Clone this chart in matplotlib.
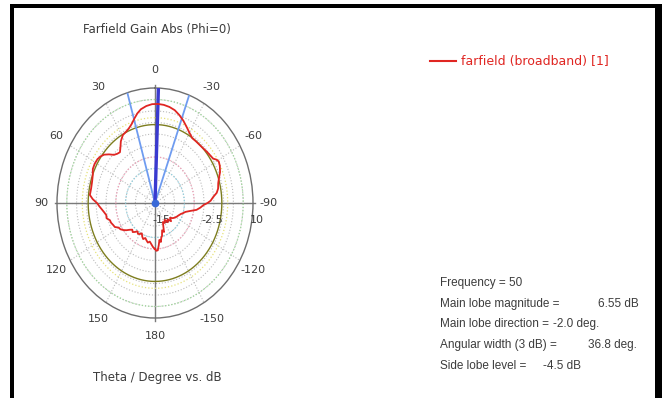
import numpy as np
import matplotlib.pyplot as plt
from matplotlib.patches import Rectangle
from matplotlib.lines import Line2D

# farfield cut, phi = 0 : theta (deg) vs gain (dB)
theta_deg = [-180, -178, -176, -174, -172, -170, -168, -166, -163, -160,
             -157, -154, -150, -146, -142, -138, -134, -130, -126, -122,
             -118, -114, -110, -107, -104, -101, -98, -95, -92, -90,
             -88, -85, -82, -79, -75, -71, -68, -64, -61, -59,
             -57, -54, -50, -46, -42, -38, -34, -30, -26, -22,
             -18, -14, -10, -6, -2, 2, 6, 10, 13, 16,
             19, 22, 25, 29, 33, 36, 39, 42, 45, 48,
             51, 54, 57, 61, 65, 69, 74, 79, 84, 87,
             90, 93, 96, 99, 102, 105, 108, 111, 114, 117,
             120, 123, 126, 129, 132, 135, 138, 141, 144, 147,
             150, 153, 156, 159, 162, 165, 168, 171, 174, 177, 180]
gain_db = [-5.0, -4.6, -4.7, -5.8, -6.9, -6.4, -7.3, -7.6, -8.8, -8.3,
           -9.6, -10.4, -10.0, -10.6, -9.7, -10.2, -9.3, -10.0, -9.4, -9.0,
           -8.7, -8.4, -8.0, -7.5, -7.0, -5.9, -4.3, -3.4, -2.6, -1.6,
           -0.8, -0.1, 0.9, 1.4, 1.7, 2.3, 2.9, 3.4, 3.6, 3.3,
           2.7, 2.5, 2.3, 2.1, 2.0, 2.0, 2.0, 2.6, 3.4, 4.3,
           5.1, 5.8, 6.2, 6.45, 6.55, 6.5, 6.2, 5.7, 5.0, 4.1,
           3.2, 2.6, 2.2, 1.9, 1.0, 0.0, -0.8, -0.6, -0.2, 0.8,
           1.7, 2.2, 2.5, 2.6, 2.5, 2.0, 1.7, 1.6, 1.7, 0.9,
           -0.2, -0.8, -1.4, -1.9, -2.3, -2.2, -2.9, -3.0, -3.3, -3.5,
           -4.3, -4.5, -5.0, -5.6, -6.3, -6.8, -6.5, -6.9, -7.4, -7.0,
           -7.2, -7.6, -7.0, -6.6, -7.0, -6.6, -6.2, -6.5, -6.0, -5.4, -5.0]

# summary values
frequency = 50
main_lobe_mag = 6.55
main_lobe_dir = -2.0
angular_width = 36.8
side_lobe_level = -4.5

r_min, r_max = -15, 10
r_labels = [-15, -2.5, 10]
theta_ticks = [0, 30, 60, 90, 120, 150, 180, -150, -120, -90, -60, -30]

W, H = 662, 398
fig = plt.figure(figsize=(W / 100, H / 100), dpi=100)
plt.rcParams['font.family'] = 'DejaVu Sans'
txt = '#3c3c3c'
fs = 8

# elliptical polar frame
ax = fig.add_axes([57 / W, (H - 318) / H, 196 / W, 230 / H], projection='polar')
ax.set_aspect('auto')
ax.set_theta_zero_location('N')
ax.set_theta_direction(1)
ax.set_ylim(r_min, r_max)
ax.set_yticks(np.arange(-12.5, 10, 2.5))
ax.set_yticklabels([])
ax.set_xticks(np.radians(np.arange(0, 360, 30)))
ax.set_xticklabels([])
ax.grid(True, color='#bcbcbc', linestyle=':', linewidth=0.8)
ax.spines['polar'].set_color('#6e6e6e')
ax.spines['polar'].set_linewidth(1.0)
ax.tick_params(length=0)

# solid cross through the centre
for t in (0, 90, 180, -90):
    ax.plot([np.radians(t)] * 2, [r_min, r_max + 0.6], color='#7a7a7a',
            lw=1.0, clip_on=False, zorder=2)

full = np.linspace(0, 2 * np.pi, 361)
# main lobe -3 dB level and side lobe level
ax.plot(full, np.full_like(full, main_lobe_mag - 3), color='#e6e27a', lw=0.9, ls=':')
ax.plot(full, np.full_like(full, main_lobe_mag + side_lobe_level), color='#7d7d1e', lw=1.0)
ax.plot(full, np.full_like(full, 7.5), color='#9fd89a', lw=0.9, ls=':')
ax.plot(full, np.full_like(full, -5.0), color='#f2a0b8', lw=0.9, ls=':')
ax.plot(full, np.full_like(full, -7.5), color='#8fd0e0', lw=0.9, ls=':')

# beam width and main lobe direction
for edge in (main_lobe_dir - angular_width / 2, main_lobe_dir + angular_width / 2):
    ax.plot([np.radians(edge)] * 2, [r_min, r_max], color='#6f9cf0', lw=1.3, zorder=3)
ax.plot([np.radians(main_lobe_dir)] * 2, [r_min, r_max], color='#3a3ad0', lw=2.4, zorder=4)
ax.plot([0], [r_min], 'o', color='#3a6ad8', ms=4.5, zorder=5)

ax.plot(np.radians(theta_deg), gain_db, color='#e02622', lw=1.3, zorder=6)

# angle labels around the frame
for t in theta_ticks:
    ax.text(np.radians(t), 14, str(t), ha='center', va='center', fontsize=fs,
            color=txt, clip_on=False)

# radial labels below the 90 deg axis
for v in r_labels:
    lab = f'{v:g}'
    ax.annotate(lab, xy=(np.radians(-90), v), xytext=(-3, -17),
                textcoords='offset pixels', ha='left', va='center',
                fontsize=fs, color=txt, annotation_clip=False)

fig.text(157 / W, 1 - 30 / H, 'Farfield Gain Abs (Phi=0)', ha='center',
         va='center', fontsize=8.5, color=txt)
fig.text(157 / W, 1 - 377 / H, 'Theta / Degree vs. dB', ha='center',
         va='center', fontsize=8.5, color=txt)

# legend entry
fig.add_artist(Line2D([430 / W, 456 / W], [1 - 61 / H] * 2, color='#e02622', lw=1.5))
fig.text(461 / W, 1 - 61 / H, 'farfield (broadband) [1]', ha='left',
         va='center', fontsize=9, color='#e02622')

# result summary
info = [
    ('Frequency = %g' % frequency, None, None),
    ('Main lobe magnitude =', '%.2f dB' % main_lobe_mag, 598),
    ('Main lobe direction =', '%.1f deg.' % main_lobe_dir, 553),
    ('Angular width (3 dB) =', '%.1f deg.' % angular_width, 588),
    ('Side lobe level =', '%.1f dB' % side_lobe_level, 543),
]
for i, (name, val, xv) in enumerate(info):
    y = 1 - (283 + i * 20.7) / H
    fig.text(440 / W, y, name, ha='left', va='center', fontsize=8.5,
             color=txt, family='Liberation Sans')
    if val is not None:
        fig.text(xv / W, y, val, ha='left', va='center', fontsize=8.5,
                 color=txt, family='Liberation Sans')

# frame edges
for x0, y0, w, h in [(10, 4, 4, 394), (10, 4, 652, 4), (655, 4, 7, 394)]:
    fig.add_artist(Rectangle((x0 / W, 1 - (y0 + h) / H), w / W, h / H,
                             transform=fig.transFigure, color='black', lw=0))

fig.savefig('out.png', dpi=100)
